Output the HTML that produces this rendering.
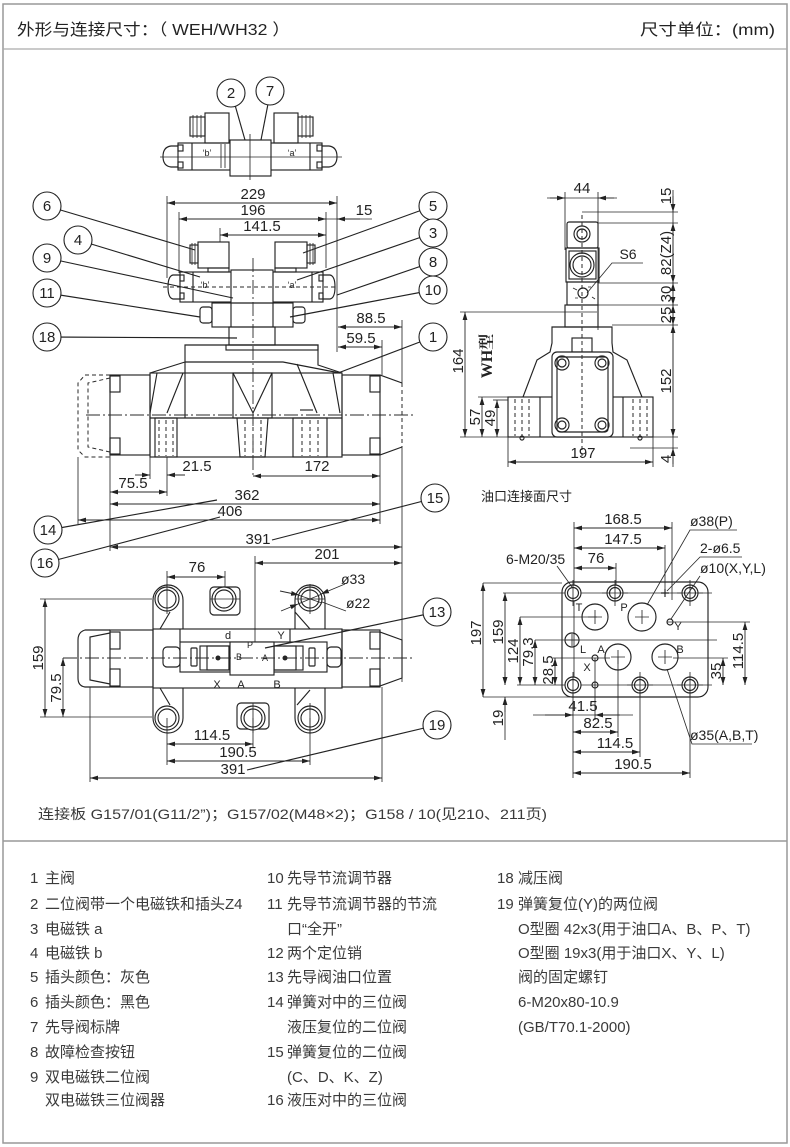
<!DOCTYPE html>
<html><head><meta charset="utf-8"><style>
html,body{margin:0;padding:0;background:#fff;}
svg{display:block}
.l{stroke:#222;stroke-width:1.15;fill:none}
.f{stroke:#222;stroke-width:1.15;fill:#fff}
.th{stroke:#2a2a2a;stroke-width:0.85;fill:none}
.dm{stroke:#2a2a2a;stroke-width:0.9;fill:none;marker-start:url(#a);marker-end:url(#a)}
.de{stroke:#2a2a2a;stroke-width:0.9;fill:none;marker-end:url(#a)}
.ds{stroke:#2a2a2a;stroke-width:1;fill:none;stroke-dasharray:4 3}
.cl{stroke:#2a2a2a;stroke-width:0.9;fill:none;stroke-dasharray:14 3 2 3}
.t{font-family:"Liberation Sans Narrow","Liberation Sans",sans-serif;font-size:15px;fill:#222;text-anchor:middle}
.ts{font-family:"Liberation Sans Narrow","Liberation Sans",sans-serif;font-size:14px;fill:#222}
.s{font-family:"Liberation Sans",sans-serif;font-size:9px;fill:#222;text-anchor:middle}
.b{fill:#fff;stroke:#222;stroke-width:1.1}
.lg{font-family:"Liberation Sans","Noto Sans CJK SC",sans-serif;font-size:15px;fill:#3a3a3a}
.hd{font-family:"Liberation Sans","Noto Sans CJK SC",sans-serif;font-size:16px;fill:#222}
</style></head><body>
<svg width="790" height="1147" viewBox="0 0 790 1147" xmlns="http://www.w3.org/2000/svg">
<defs>
<marker id="a" viewBox="0 0 8 6" refX="8" refY="3" markerWidth="8" markerHeight="6" markerUnits="userSpaceOnUse" orient="auto-start-reverse"><path d="M0,0.6 L8,3 L0,5.4z" fill="#222"/></marker>
</defs>

<!-- frame -->
<rect x="3" y="4" width="784" height="1139" fill="none" stroke="#999" stroke-width="1.5"/>
<line x1="3" y1="49" x2="787" y2="49" stroke="#aaa" stroke-width="1.2"/>
<line x1="3" y1="841" x2="787" y2="841" stroke="#999" stroke-width="1.5"/>
<text class="hd" x="17" y="35" textLength="273" lengthAdjust="spacingAndGlyphs">外形与连接尺寸：（ WEH/WH32 ）</text>
<text class="hd" x="640" y="35" textLength="135" lengthAdjust="spacingAndGlyphs">尺寸单位：(mm)</text>

<!-- ===== top pilot view ===== -->
<line class="l" x1="235" y1="105" x2="247" y2="147"/>
<line class="l" x1="268" y1="104" x2="261" y2="140"/>
<circle class="b" cx="231" cy="93" r="14"/><text class="t" x="231" y="98">2</text>
<circle class="b" cx="270" cy="91" r="14"/><text class="t" x="270" y="96">7</text>
<rect class="l" x="205" y="113" width="24" height="30"/>
<rect class="l" x="274" y="113" width="24" height="30"/>
<rect class="l" x="190" y="117" width="15" height="19"/>
<path class="th" d="M193,115V138M197,115V138M201,115V138"/>
<rect class="l" x="298" y="117" width="15" height="19"/>
<path class="th" d="M302,115V138M306,115V138M310,115V138"/>
<rect class="l" x="178" y="143" width="144" height="27"/>
<path class="l" d="M178,146H171Q163,147 163,156.5Q163,166 171,167H178"/>
<path class="l" d="M322,146H329Q337,147 337,156.5Q337,166 329,167H322"/>
<path class="l" d="M192,143V170M310,143V170"/>
<rect class="l" x="178" y="145" width="5" height="6"/><rect class="l" x="178" y="162" width="5" height="6"/>
<rect class="l" x="317" y="145" width="5" height="6"/><rect class="l" x="317" y="162" width="5" height="6"/>
<path class="th" d="M221,144V168M225,144V168"/>
<rect class="f" x="230" y="140" width="41" height="36"/>
<line class="th" x1="160" y1="157" x2="342" y2="157"/>
<line class="th" x1="250" y1="134" x2="250" y2="180"/>
<text class="s" x="207" y="156">‘b’</text>
<text class="s" x="292" y="156">‘a’</text>

<!-- ===== front view dims ===== -->
<line class="dm" x1="167" y1="203" x2="337" y2="203"/>
<text class="t" x="253" y="199">229</text>
<line class="th" x1="167" y1="196" x2="167" y2="278"/>
<line class="th" x1="337" y1="196" x2="337" y2="352"/>
<line class="dm" x1="179" y1="219" x2="326" y2="219"/>
<line class="th" x1="326" y1="219" x2="372" y2="219"/>
<line class="de" x1="360" y1="219" x2="337" y2="219"/>
<text class="t" x="253" y="215">196</text>
<text class="t" x="364" y="215">15</text>
<line class="th" x1="179" y1="212" x2="179" y2="273"/>
<line class="th" x1="326" y1="212" x2="326" y2="268"/>
<line class="dm" x1="220" y1="235" x2="326" y2="235"/>
<text class="t" x="262" y="231">141.5</text>
<line class="th" x1="220" y1="228" x2="220" y2="242"/>

<line class="dm" x1="338" y1="327" x2="402" y2="327"/>
<text class="t" x="371" y="323">88.5</text>
<line class="th" x1="402" y1="320" x2="402" y2="383"/>
<line class="dm" x1="338" y1="347" x2="382" y2="347"/>
<text class="t" x="361" y="343">59.5</text>
<line class="th" x1="382" y1="340" x2="382" y2="375"/>

<!-- front pilot valve -->
<rect class="l" x="198" y="242" width="31" height="26"/>
<rect class="l" x="275" y="242" width="32" height="26"/>
<rect class="l" x="190" y="245" width="8" height="18"/>
<path class="th" d="M192,243V265M195,243V265"/>
<rect class="l" x="307" y="245" width="8" height="18"/>
<path class="th" d="M310,243V265M313,243V265"/>
<rect class="l" x="208" y="268" width="21" height="4"/>
<rect class="l" x="275" y="268" width="21" height="4"/>
<rect class="l" x="180" y="272" width="143" height="30"/>
<path class="l" d="M180,275H173Q168,276 168,287Q168,298 173,299H180"/>
<path class="l" d="M323,275H330Q335,276 335,287Q335,298 330,299H323"/>
<path class="l" d="M193,272V302M312,272V302"/>
<rect class="l" x="180" y="275" width="4" height="6"/><rect class="l" x="180" y="293" width="4" height="6"/>
<rect class="l" x="319" y="275" width="4" height="6"/><rect class="l" x="319" y="293" width="4" height="6"/>
<rect class="f" x="231" y="270" width="42" height="33"/>
<line class="ds" x1="163" y1="287" x2="338" y2="287"/>
<text class="s" x="205" y="288">‘b’</text><text class="s" x="292" y="288">‘a’</text>
<rect class="l" x="212" y="303" width="81" height="24"/>
<rect class="l" x="200" y="307" width="12" height="16" rx="3"/>
<rect class="l" x="293" y="307" width="12" height="16" rx="3"/>
<path class="l" d="M231,303V327M273,303V327"/>
<rect class="l" x="229" y="327" width="46" height="18"/>
<rect class="l" x="226" y="345" width="92" height="5"/>

<!-- main valve front -->
<path class="l" d="M150,373L185,362V345H318V365L342,373"/>
<path class="l" d="M185,362H283L340,373"/>
<path class="l" d="M157,373L150,413M183,373L167,413M297,364L317,413M333,373L340,413"/>
<path class="l" d="M185,362V418"/>
<rect class="l" x="150" y="373" width="192" height="84"/>
<line class="l" x1="150" y1="418" x2="342" y2="418"/>
<rect class="l" x="233" y="373" width="39" height="45"/>
<path class="l" d="M233,373L253,413L272,373"/>
<rect class="l" x="155" y="418" width="22" height="39"/>
<path class="ds" d="M159,420V456M166,420V456M173,420V456"/>
<path class="l" d="M237,418L240,457H265L268,418"/>
<path class="ds" d="M245,420V456M253,420V456M261,420V456"/>
<rect class="l" x="293" y="418" width="34" height="39"/>
<path class="ds" d="M302,420V456M310,420V456M318,420V456"/>
<line class="l" x1="300" y1="410" x2="313" y2="410"/>
<rect class="l" x="110" y="375" width="40" height="80"/>
<rect class="l" x="342" y="375" width="38" height="80"/>
<path class="ds" d="M110,375H85L78,383V450L85,457H110"/>
<path class="ds" d="M110,378L88,383V447L110,452"/>
<path class="l" d="M380,375L402,383M380,455L402,447"/>
<line class="ds" x1="402" y1="383" x2="402" y2="447"/>
<rect class="l" x="110" y="376" width="10" height="16"/><rect class="l" x="110" y="438" width="10" height="16"/>
<rect class="l" x="370" y="376" width="10" height="16"/><rect class="l" x="370" y="438" width="10" height="16"/>
<line class="cl" x1="86" y1="415" x2="414" y2="415"/>
<line class="cl" x1="253" y1="258" x2="253" y2="478"/>

<!-- main valve dims -->
<line class="th" x1="110" y1="455" x2="110" y2="551"/>
<line class="th" x1="78" y1="457" x2="78" y2="524"/>
<line class="th" x1="380" y1="455" x2="380" y2="524"/>
<line class="th" x1="402" y1="447" x2="402" y2="682"/>
<line class="th" x1="150" y1="457" x2="150" y2="479"/>
<line class="th" x1="167" y1="457" x2="167" y2="496"/>
<line class="de" x1="135" y1="475" x2="150" y2="475"/>
<line class="de" x1="185" y1="475" x2="167" y2="475"/>
<text class="t" x="197" y="471">21.5</text>
<line class="dm" x1="110" y1="492" x2="167" y2="492"/>
<text class="t" x="133" y="488">75.5</text>
<line class="dm" x1="253" y1="476" x2="380" y2="476"/>
<text class="t" x="317" y="471">172</text>
<line class="dm" x1="110" y1="504" x2="380" y2="504"/>
<text class="t" x="247" y="500">362</text>
<line class="dm" x1="78" y1="520" x2="380" y2="520"/>
<text class="t" x="230" y="516">406</text>
<line class="dm" x1="110" y1="547" x2="402" y2="547"/>
<text class="t" x="258" y="544">391</text>

<!-- leaders + balloons top -->
<path class="l" d="M47,206L195,250M78,240L200,277M47,258L233,298M47,293L200,317M47,337L237,338"/>
<path class="l" d="M433,206L303,253M433,233L297,280M433,262L337,295M433,290L290,317M433,337L338,373"/>
<path class="l" d="M48,530L217,500M45,563L220,517M435,498L272,540"/>
<circle class="b" cx="47" cy="206" r="14"/><text class="t" x="47" y="211">6</text>
<circle class="b" cx="78" cy="240" r="14"/><text class="t" x="78" y="245">4</text>
<circle class="b" cx="47" cy="258" r="14"/><text class="t" x="47" y="263">9</text>
<circle class="b" cx="47" cy="293" r="14"/><text class="t" x="47" y="298">11</text>
<circle class="b" cx="47" cy="337" r="14"/><text class="t" x="47" y="342">18</text>
<circle class="b" cx="433" cy="206" r="14"/><text class="t" x="433" y="211">5</text>
<circle class="b" cx="433" cy="233" r="14"/><text class="t" x="433" y="238">3</text>
<circle class="b" cx="433" cy="262" r="14"/><text class="t" x="433" y="267">8</text>
<circle class="b" cx="433" cy="290" r="14"/><text class="t" x="433" y="295">10</text>
<circle class="b" cx="433" cy="337" r="14"/><text class="t" x="433" y="342">1</text>
<circle class="b" cx="48" cy="530" r="14"/><text class="t" x="48" y="535">14</text>
<circle class="b" cx="45" cy="563" r="14"/><text class="t" x="45" y="568">16</text>
<circle class="b" cx="435" cy="498" r="14"/><text class="t" x="435" y="503">15</text>

<!-- ===== side view ===== -->
<line class="th" x1="547" y1="198" x2="617" y2="198"/>
<line class="de" x1="550" y1="198" x2="565" y2="198"/>
<line class="de" x1="614" y1="198" x2="598" y2="198"/>
<text class="t" x="582" y="193">44</text>
<line class="th" x1="565" y1="192" x2="565" y2="250"/>
<line class="th" x1="598" y1="192" x2="598" y2="330"/>
<line class="th" x1="673" y1="190" x2="673" y2="467"/>
<path class="th" d="M582,212H678M598,223H678M598,283H678M598,305H678M612,325H678M653,437H678M630,448H678"/>
<line class="de" x1="673" y1="196" x2="673" y2="212"/>
<line class="dm" x1="673" y1="223" x2="673" y2="283"/>
<line class="dm" x1="673" y1="283" x2="673" y2="305"/>
<line class="dm" x1="673" y1="305" x2="673" y2="325"/>
<line class="dm" x1="673" y1="325" x2="673" y2="437"/>
<line class="de" x1="673" y1="464" x2="673" y2="448"/>
<text class="t" transform="translate(671,196) rotate(-90)">15</text>
<text class="t" transform="translate(671,253) rotate(-90)">82(Z4)</text>
<text class="t" transform="translate(671,294) rotate(-90)">30</text>
<text class="t" transform="translate(671,315) rotate(-90)">25</text>
<text class="t" transform="translate(671,381) rotate(-90)">152</text>
<text class="t" transform="translate(671,459) rotate(-90)">4</text>
<rect class="l" x="567" y="222" width="31" height="26" rx="2"/>
<circle class="l" cx="582" cy="234" r="8"/><circle class="l" cx="582" cy="234" r="5"/>
<rect class="l" x="566" y="248" width="33" height="34"/>
<rect class="l" x="569" y="251" width="27" height="28"/>
<circle class="l" cx="582" cy="265" r="12"/><circle class="l" cx="582" cy="265" r="9"/>
<rect class="l" x="567" y="282" width="31" height="23"/>
<circle class="l" cx="583" cy="293" r="5"/>
<path class="th" d="M573,288L577,290M592,297L595,299M575,298H578M588,287H591"/>
<rect class="l" x="565" y="305" width="33" height="22"/>
<path class="l" d="M556,327H612V343L613,352L627,360L642,397M556,327H552V343L550,352L537,360L523,397"/>
<rect class="l" x="572" y="338" width="20" height="14"/>
<rect class="l" x="508" y="397" width="145" height="40"/>
<path class="l" d="M540,397V437M623,397V437"/>
<rect class="f" x="552" y="352" width="61" height="85" rx="5"/>
<rect class="l" x="557" y="357" width="51" height="75" rx="3"/>
<circle class="l" cx="562" cy="363" r="7"/><circle class="l" cx="562" cy="363" r="4"/>
<circle class="l" cx="602" cy="363" r="7"/><circle class="l" cx="602" cy="363" r="4"/>
<circle class="l" cx="562" cy="425" r="7"/><circle class="l" cx="562" cy="425" r="4"/>
<circle class="l" cx="602" cy="425" r="7"/><circle class="l" cx="602" cy="425" r="4"/>
<path class="ds" d="M515,399V436M522,399V436M529,399V436M633,399V436M640,399V436M647,399V436"/>
<circle class="l" cx="522" cy="438" r="2"/><circle class="l" cx="640" cy="438" r="2"/>
<line class="ds" x1="582" y1="215" x2="582" y2="456"/>
<text class="t" x="628" y="259" style="font-size:14px">S6</text>
<path class="th" d="M643,263H612L587,293"/>
<!-- left side dims -->
<line class="th" x1="460" y1="312" x2="597" y2="312"/>
<line class="th" x1="460" y1="437" x2="508" y2="437"/>
<line class="th" x1="478" y1="397" x2="523" y2="397"/>
<line class="th" x1="493" y1="400" x2="508" y2="400"/>
<line class="dm" x1="465" y1="312" x2="465" y2="437"/>
<line class="dm" x1="482" y1="397" x2="482" y2="437"/>
<line class="dm" x1="497" y1="400" x2="497" y2="437"/>
<text class="t" transform="translate(463,361) rotate(-90)">164</text>
<text class="t" transform="translate(480,417) rotate(-90)">57</text>
<text class="t" transform="translate(495,418) rotate(-90)">49</text>
<text transform="translate(492,356) rotate(-90)" style="font-family:'Liberation Serif','Noto Serif CJK SC',serif;font-size:16px;font-weight:bold;fill:#222;text-anchor:middle">WH型</text>
<line class="th" x1="508" y1="437" x2="508" y2="467"/>
<line class="th" x1="653" y1="437" x2="653" y2="467"/>
<line class="dm" x1="508" y1="462" x2="653" y2="462"/>
<text class="t" x="583" y="458">197</text>

<!-- ===== bottom-left top view ===== -->
<line class="dm" x1="255" y1="563" x2="402" y2="563"/>
<text class="t" x="327" y="559">201</text>
<line class="th" x1="255" y1="556" x2="255" y2="648"/>
<line class="dm" x1="167" y1="577" x2="225" y2="577"/>
<text class="t" x="197" y="572">76</text>
<line class="th" x1="167" y1="571" x2="167" y2="600"/>
<line class="th" x1="225" y1="571" x2="225" y2="600"/>
<!-- bosses -->
<path class="l" d="M153,629V600A15,15 0 0 1 183,600V629"/>
<path class="l" d="M170,612L160,629M295,612L310,629"/>
<path class="l" d="M295,629V600A15,15 0 0 1 325,600V629"/>
<rect class="l" x="210" y="587" width="30" height="28" rx="4"/>
<path class="l" d="M153,688V718A15,15 0 0 0 183,718V688"/>
<path class="l" d="M295,688V718A15,15 0 0 0 325,718V688"/>
<path class="l" d="M160,688L170,705M310,690L297,705"/>
<rect class="l" x="237" y="703" width="32" height="26" rx="4"/>
<circle class="f" cx="167" cy="599" r="12"/><circle class="l" cx="167" cy="599" r="9"/>
<circle class="f" cx="224" cy="599" r="12"/><circle class="l" cx="224" cy="599" r="9"/>
<circle class="f" cx="310" cy="599" r="12"/><circle class="l" cx="310" cy="599" r="9"/>
<circle class="f" cx="167" cy="718" r="12"/><circle class="l" cx="167" cy="718" r="9"/>
<circle class="f" cx="253" cy="718" r="12"/><circle class="l" cx="253" cy="718" r="9"/>
<circle class="f" cx="310" cy="718" r="12"/><circle class="l" cx="310" cy="718" r="9"/>
<path class="th" d="M167,584V614M310,584V614M253,703V733M310,703V733M295,599H325M210,599H240"/>
<!-- body -->
<rect class="l" x="153" y="629" width="189" height="59"/>
<rect class="l" x="110" y="630" width="43" height="57"/>
<rect class="l" x="342" y="630" width="38" height="57"/>
<path class="l" d="M110,630H85Q78,632 78,640V678Q78,686 85,687H110"/>
<path class="l" d="M110,633L90,637V680L110,684"/>
<path class="l" d="M380,632L402,640V678L380,686"/>
<rect class="l" x="110" y="632" width="10" height="17"/><rect class="l" x="110" y="669" width="10" height="17"/>
<rect class="l" x="370" y="632" width="10" height="17"/><rect class="l" x="370" y="669" width="10" height="17"/>
<path class="l" d="M180,629V642M290,629V642"/>
<!-- pilot overlay -->
<rect class="f" x="180" y="642" width="147" height="30"/>
<rect class="l" x="163" y="647" width="17" height="20" rx="4"/>
<rect class="l" x="327" y="647" width="14" height="20" rx="4"/>
<rect class="l" x="191" y="648" width="6" height="18" rx="1"/>
<rect class="l" x="309" y="648" width="6" height="18" rx="1"/>
<rect class="l" x="200" y="646" width="29" height="24"/>
<rect class="l" x="207" y="646" width="22" height="24"/>
<circle cx="218" cy="658" r="2.5" fill="#222"/>
<rect class="l" x="274" y="646" width="29" height="24"/>
<rect class="l" x="274" y="646" width="22" height="24"/>
<circle cx="285" cy="658" r="2.5" fill="#222"/>
<rect class="f" x="230" y="642" width="44" height="33"/>
<text class="s" x="250" y="648">P</text>
<text class="s" x="239" y="660">B</text>
<text class="s" x="265" y="661">A</text>
<text class="s" x="217" y="688" style="font-size:11px">X</text>
<text class="s" x="241" y="688" style="font-size:11px">A</text>
<text class="s" x="277" y="688" style="font-size:11px">B</text>
<text class="s" x="228" y="639" style="font-size:11px">d</text>
<text class="s" x="281" y="639" style="font-size:11px">Y</text>
<line class="cl" x1="63" y1="658" x2="412" y2="658"/>
<!-- dims -->
<path class="th" d="M40,599H152M40,717H152"/>
<line class="dm" x1="45" y1="599" x2="45" y2="717"/>
<line class="dm" x1="63" y1="658" x2="63" y2="717"/>
<text class="t" transform="translate(43,658) rotate(-90)">159</text>
<text class="t" transform="translate(61,688) rotate(-90)">79.5</text>
<line class="th" x1="167" y1="718" x2="167" y2="765"/>
<line class="th" x1="253" y1="718" x2="253" y2="748"/>
<line class="th" x1="310" y1="718" x2="310" y2="765"/>
<line class="dm" x1="167" y1="744" x2="253" y2="744"/>
<text class="t" x="212" y="740">114.5</text>
<line class="dm" x1="167" y1="761" x2="310" y2="761"/>
<text class="t" x="238" y="757">190.5</text>
<line class="th" x1="90" y1="687" x2="90" y2="782"/>
<line class="th" x1="382" y1="687" x2="382" y2="782"/>
<line class="dm" x1="90" y1="778" x2="382" y2="778"/>
<text class="t" x="233" y="774">391</text>
<!-- phi33/22 -->
<line class="de" x1="280" y1="591" x2="299" y2="595"/>
<line class="de" x1="345" y1="584" x2="321" y2="594"/>
<line class="de" x1="281" y1="611" x2="298" y2="604"/>
<line class="th" x1="322" y1="602" x2="346" y2="611"/>
<path class="th" d="M298,595L322,603M298,604L322,594"/>
<text class="ts" x="341" y="584">ø33</text>
<text class="ts" x="346" y="608">ø22</text>
<!-- balloons 13 19 -->
<path class="l" d="M437,612L265,648M437,725L247,770"/>
<circle class="b" cx="437" cy="612" r="14"/><text class="t" x="437" y="617">13</text>
<circle class="b" cx="437" cy="725" r="14"/><text class="t" x="437" y="730">19</text>

<!-- ===== bottom-right port face ===== -->
<text class="lg" x="481" y="501" style="font-size:13px;fill:#222">油口连接面尺寸</text>
<path class="th" d="M503,593H712M517,685H712M483,583H562M483,697H570M520,617H597M535,640H717M553,658H610M667,622H750M673,658H728"/>
<path class="th" d="M574,522V685M672,522V600M616,563V600M665,545V593M573,685V778M595,658V720M618,657V737M640,685V757M690,685V778M505,697V740"/>
<rect class="l" x="562" y="582" width="146" height="115" rx="10"/>
<circle class="f" cx="573" cy="593" r="8"/><circle class="l" cx="573" cy="593" r="5.5"/>
<circle class="f" cx="615" cy="593" r="8"/><circle class="l" cx="615" cy="593" r="5.5"/>
<circle class="f" cx="690" cy="593" r="8"/><circle class="l" cx="690" cy="593" r="5.5"/>
<circle class="f" cx="573" cy="685" r="8"/><circle class="l" cx="573" cy="685" r="5.5"/>
<circle class="f" cx="640" cy="685" r="8"/><circle class="l" cx="640" cy="685" r="5.5"/>
<circle class="f" cx="690" cy="685" r="8"/><circle class="l" cx="690" cy="685" r="5.5"/>
<path class="th" d="M573,580V606M615,580V606M690,580V606M573,672V698M640,672V698M690,672V698M602,593H628M677,593H703M627,685H653M677,685H703"/>
<circle class="l" cx="595" cy="617" r="13"/><path class="th" d="M588,617H602M595,610V624"/>
<circle class="l" cx="642" cy="617" r="14"/><path class="th" d="M635,617H649M642,610V624"/>
<circle class="l" cx="618" cy="657" r="13"/><path class="th" d="M611,657H625M618,650V664"/>
<circle class="l" cx="665" cy="657" r="13"/><path class="th" d="M658,657H672M665,650V664"/>
<circle class="l" cx="572" cy="640" r="7"/><path class="th" d="M566,640H578M572,634V646"/>
<circle class="l" cx="670" cy="622" r="3"/>
<circle class="l" cx="595" cy="658" r="3"/>
<circle class="l" cx="595" cy="685" r="3"/>
<path class="l" d="M661,593H669M665,589V597"/>
<text class="s" x="579" y="611" style="font-size:11px">T</text>
<text class="s" x="624" y="611" style="font-size:11px">P</text>
<text class="s" x="678" y="630" style="font-size:11px">Y</text>
<text class="s" x="583" y="653" style="font-size:11px">L</text>
<text class="s" x="601" y="653" style="font-size:11px">A</text>
<text class="s" x="587" y="671" style="font-size:11px">X</text>
<text class="s" x="680" y="653" style="font-size:11px">B</text>
<line class="dm" x1="574" y1="528" x2="672" y2="528"/>
<text class="t" x="623" y="524">168.5</text>
<line class="dm" x1="574" y1="548" x2="665" y2="548"/>
<text class="t" x="623" y="544">147.5</text>
<line class="dm" x1="574" y1="568" x2="616" y2="568"/>
<text class="t" x="596" y="563">76</text>
<text class="ts" x="506" y="564">6-M20/35</text>
<path class="th" d="M557,566L572,587"/>
<text class="ts" x="690" y="526">ø38(P)</text>
<path class="th" d="M737,530H690L647,605"/>
<text class="ts" x="700" y="553">2-ø6.5</text>
<path class="th" d="M742,557H700L667,591"/>
<text class="ts" x="700" y="573">ø10(X,Y,L)</text>
<path class="th" d="M700,576L671,619"/>
<text class="ts" x="690" y="740">ø35(A,B,T)</text>
<path class="th" d="M752,744H692L667,669"/>
<line class="dm" x1="483" y1="583" x2="483" y2="697"/>
<text class="t" transform="translate(481,633) rotate(-90)">197</text>
<line class="dm" x1="505" y1="593" x2="505" y2="685"/>
<text class="t" transform="translate(503,632) rotate(-90)">159</text>
<line class="dm" x1="520" y1="617" x2="520" y2="685"/>
<text class="t" transform="translate(518,651) rotate(-90)">124</text>
<line class="dm" x1="535" y1="640" x2="535" y2="685"/>
<text class="t" transform="translate(533,652) rotate(-90)">79.3</text>
<line class="dm" x1="555" y1="658" x2="555" y2="685"/>
<text class="t" transform="translate(553,670) rotate(-90)">28.5</text>
<line class="de" x1="505" y1="672" x2="505" y2="685"/>
<line class="de" x1="505" y1="712" x2="505" y2="697"/>
<text class="t" transform="translate(503,718) rotate(-90)">19</text>
<line class="dm" x1="745" y1="622" x2="745" y2="685"/>
<text class="t" transform="translate(743,651) rotate(-90)">114.5</text>
<line class="dm" x1="723" y1="658" x2="723" y2="685"/>
<text class="t" transform="translate(721,671) rotate(-90)">35</text>
<line class="th" x1="533" y1="715" x2="633" y2="715"/>
<line class="de" x1="545" y1="715" x2="573" y2="715"/>
<line class="de" x1="620" y1="715" x2="595" y2="715"/>
<text class="t" x="583" y="711">41.5</text>
<line class="dm" x1="573" y1="732" x2="618" y2="732"/>
<text class="t" x="598" y="728">82.5</text>
<line class="dm" x1="573" y1="752" x2="640" y2="752"/>
<text class="t" x="615" y="748">114.5</text>
<line class="dm" x1="573" y1="773" x2="690" y2="773"/>
<text class="t" x="633" y="769">190.5</text>

<!-- connection plate note -->
<text class="lg" x="38" y="819" style="font-size:14px" textLength="509" lengthAdjust="spacingAndGlyphs">连接板   G157/01(G11/2”)；G157/02(M48×2)；G158 / 10(见210、211页)</text>

<!-- ===== legend ===== -->
<g class="lg">
<text x="30" y="883">1</text><text x="45" y="883">主阀</text>
<text x="30" y="909">2</text><text x="45" y="909">二位阀带一个电磁铁和插头Z4</text>
<text x="30" y="934">3</text><text x="45" y="934">电磁铁  a</text>
<text x="30" y="958">4</text><text x="45" y="958">电磁铁  b</text>
<text x="30" y="982">5</text><text x="45" y="982">插头颜色：灰色</text>
<text x="30" y="1007">6</text><text x="45" y="1007">插头颜色：黑色</text>
<text x="30" y="1032">7</text><text x="45" y="1032">先导阀标牌</text>
<text x="30" y="1057">8</text><text x="45" y="1057">故障检查按钮</text>
<text x="30" y="1082">9</text><text x="45" y="1082">双电磁铁二位阀</text>
<text x="45" y="1105">双电磁铁三位阀器</text>

<text x="267" y="883">10</text><text x="287" y="883">先导节流调节器</text>
<text x="267" y="909">11</text><text x="287" y="909">先导节流调节器的节流</text>
<text x="287" y="934">口“全开”</text>
<text x="267" y="958">12</text><text x="287" y="958">两个定位销</text>
<text x="267" y="982">13</text><text x="287" y="982">先导阀油口位置</text>
<text x="267" y="1007">14</text><text x="287" y="1007">弹簧对中的三位阀</text>
<text x="287" y="1032">液压复位的二位阀</text>
<text x="267" y="1057">15</text><text x="287" y="1057">弹簧复位的二位阀</text>
<text x="287" y="1082">(C、D、K、Z)</text>
<text x="267" y="1105">16</text><text x="287" y="1105">液压对中的三位阀</text>

<text x="497" y="883">18</text><text x="518" y="883">减压阀</text>
<text x="497" y="909">19</text><text x="518" y="909">弹簧复位(Y)的两位阀</text>
<text x="518" y="934">O型圈  42x3(用于油口A、B、P、T)</text>
<text x="518" y="958">O型圈  19x3(用于油口X、Y、L)</text>
<text x="518" y="982">阀的固定螺钉</text>
<text x="518" y="1007">6-M20x80-10.9</text>
<text x="518" y="1032">(GB/T70.1-2000)</text>
</g>
</svg>
</body></html>
